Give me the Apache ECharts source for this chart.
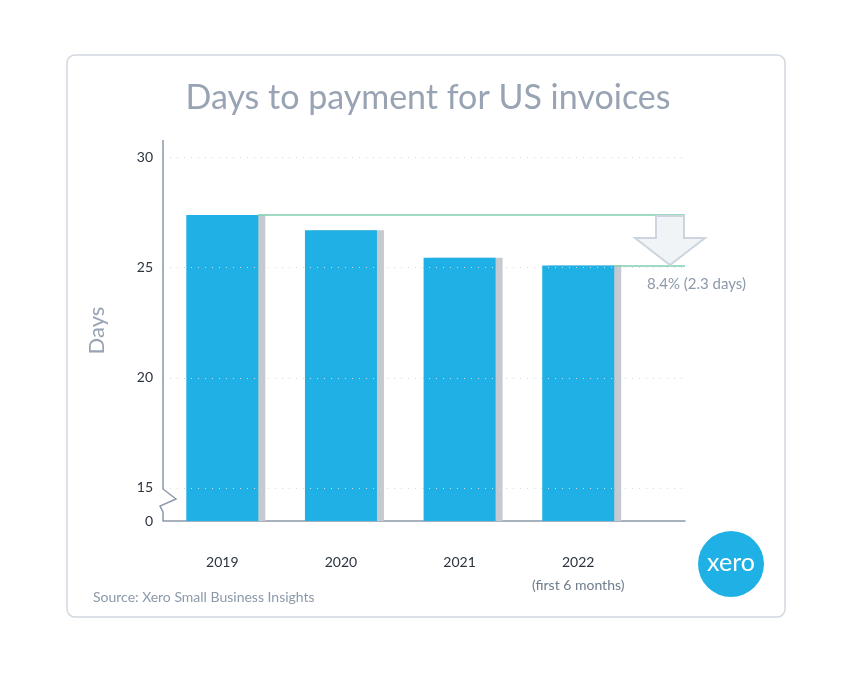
<!DOCTYPE html>
<html><head><meta charset="utf-8">
<script src="https://cdn.jsdelivr.net/npm/echarts@6/dist/echarts.min.js"></script>
<style>html,body{margin:0;padding:0;background:#fff}#c{width:856px;height:681px}</style>
</head><body><div id="c"></div>
<script>
var years = ['2019', '2020', '2021', '2022'];
var xPos = [0.5, 1.5, 2.5, 3.5];
var days = [27.4, 26.7, 25.45, 25.1];
var yTicks = [13.5, 15, 20, 25, 30];
var gridLines = [15, 20, 25, 30];

var chart = echarts.init(document.getElementById('c'));
var font = 'Lato, "Noto Sans", sans-serif';
var data = [];
for (var i = 0; i < years.length; i++) data.push([xPos[i], days[i]]);

var marks = [];
gridLines.forEach(function (v) {
  marks.push({yAxis: v, lineStyle: {color: '#d5dbe2', type: [1, 6], width: 1}});
});
marks.push([{coord: [xPos[0] + 0.3, days[0]], lineStyle: {color: '#7fcfae', type: 'solid', width: 1.5}}, {coord: [4.4, days[0]]}]);
marks.push([{coord: [xPos[3] + 0.3, days[3]], lineStyle: {color: '#7fcfae', type: 'solid', width: 1.5}}, {coord: [4.4, days[3]]}]);

var option = {
  animation: false,
  title: {
    text: 'Days to payment for US invoices', left: 'center', top: 76,
    textStyle: {color: '#98a3b3', fontSize: 34, fontWeight: 'normal', fontFamily: font}
  },
  grid: {left: 163, right: 171, top: 140, bottom: 160},
  xAxis: {
    type: 'value', min: 0, max: 4.4,
    splitLine: {show: false},
    axisLine: {lineStyle: {color: '#8c99aa', width: 1.5}},
    axisTick: {show: false},
    axisLabel: {
      customValues: xPos, margin: 30, color: '#2b3440', fontSize: 14, fontFamily: font,
      formatter: function (v) {
        var idx = xPos.indexOf(v);
        return idx === 3 ? years[idx] + '\n{s|(first 6 months)}' : years[idx];
      },
      lineHeight: 22,
      rich: {s: {color: '#6f7c8c', fontSize: 14, fontFamily: font, lineHeight: 24}}
    }
  },
  yAxis: {
    type: 'value', min: 13.5, max: 30.8,
    name: 'Days', nameLocation: 'middle', nameGap: 55, nameRotate: 90,
    nameTextStyle: {color: '#98a3b3', fontSize: 22, fontFamily: font},
    axisLine: {show: false}, axisTick: {show: false}, splitLine: {show: false},
    axisLabel: {
      customValues: yTicks, margin: 10, color: '#2b3440', fontSize: 14, fontFamily: font,
      formatter: function (v) { return v === 13.5 ? '0' : String(v); }
    }
  },
  series: [{
    type: 'bar', barWidth: 72, data: data,
    itemStyle: {color: '#1fb1e6', shadowColor: '#c5c9d0', shadowOffsetX: 7, shadowBlur: 0},
    markLine: {symbol: 'none', silent: true, label: {show: false}, data: marks}
  }],
  graphic: [
    {type: 'rect', shape: {x: 67, y: 55, width: 718, height: 562, r: 8}, style: {fill: 'none', stroke: '#cfd7df', lineWidth: 1.5}, z: -1},
    {type: 'polyline', shape: {points: [[163, 140], [163, 489], [176, 499], [160, 506], [163, 512], [163, 521]]}, style: {fill: 'none', stroke: '#8c99aa', lineWidth: 1.5}, z: 10},
    {type: 'polygon', shape: {points: [[656, 216], [684, 216], [684, 238], [705, 238], [670, 265], [635, 238], [656, 238]]}, style: {fill: '#f1f4f7', stroke: '#ccd5de', lineWidth: 2}, z: 10},
    {type: 'text', left: 647, top: 277, style: {text: '8.4% (2.3 days)', fill: '#8c99aa', fontSize: 15, fontFamily: font}, z: 10},
    {type: 'text', left: 93, top: 590, style: {text: 'Source: Xero Small Business Insights', fill: '#8c99aa', fontSize: 14, fontFamily: font}, z: 10},
    {type: 'circle', shape: {cx: 731, cy: 564, r: 33}, style: {fill: '#1fb1e6'}, z: 10},
    {type: 'text', x: 731, y: 563, style: {text: 'xero', fill: '#fff', fontSize: 25, fontFamily: font, align: 'center', verticalAlign: 'middle'}, z: 11}
  ]
};
chart.setOption(option);
</script></body></html>
